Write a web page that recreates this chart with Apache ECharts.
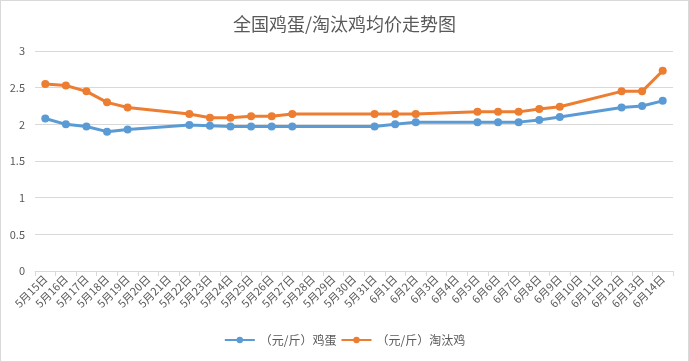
<!DOCTYPE html>
<html><head><meta charset="utf-8">
<script src="https://cdn.jsdelivr.net/npm/echarts@6/dist/echarts.min.js"></script>
<style>html,body{margin:0;padding:0;background:#fff}#c{width:689px;height:362px;box-sizing:border-box;border:1px solid #d9d9d9}</style>
</head><body><div id="c"></div>
<script>
const categories = ['5月15日','5月16日','5月17日','5月18日','5月19日','5月20日','5月21日','5月22日','5月23日','5月24日','5月25日','5月26日','5月27日','5月28日','5月29日','5月30日','5月31日','6月1日','6月2日','6月3日','6月4日','6月5日','6月6日','6月7日','6月8日','6月9日','6月10日','6月11日','6月12日','6月13日','6月14日'];
const eggPrice = [2.08,2.00,1.97,1.90,1.93,null,null,1.99,1.98,1.97,1.97,1.97,1.97,null,null,null,1.97,2.00,2.03,null,null,2.03,2.03,2.03,2.06,2.10,null,null,2.23,2.25,2.32];
const henPrice = [2.55,2.53,2.45,2.30,2.23,null,null,2.14,2.09,2.09,2.11,2.11,2.14,null,null,null,2.14,2.14,2.14,null,null,2.17,2.17,2.17,2.21,2.24,null,null,2.45,2.45,2.73];
const yTicks = {min:0, max:3, interval:0.5};
const seriesNames = ['（元/斤）鸡蛋','（元/斤）淘汰鸡'];

const font = 'Noto Sans CJK SC';
const chart = echarts.init(document.getElementById('c'));
const mk = (name, data, color) => ({
  name, type:'line', data, connectNulls:true,
  symbol:'circle', symbolSize:8, smooth:false,
  lineStyle:{color, width:3}, itemStyle:{color},
  emphasis:{disabled:true}
});
chart.setOption({
  animation:false,
  title:{text:'全国鸡蛋/淘汰鸡均价走势图', left:'center', top:9,
    textStyle:{fontFamily:font, fontSize:18, fontWeight:'normal', color:'#595959'}},
  legend:{bottom:10, left:'center', itemWidth:30, itemHeight:8, itemGap:4,
    textStyle:{fontFamily:font, fontSize:12, color:'#595959'},
    data:seriesNames},
  grid:{left:34, right:15, top:50, bottom:90, containLabel:false},
  xAxis:{type:'category', data:categories, boundaryGap:true,
    axisLine:{lineStyle:{color:'#d9d9d9', width:1}},
    axisTick:{show:true, alignWithLabel:false, length:5, lineStyle:{color:'#d9d9d9'}},
    axisLabel:{interval:0, rotate:45, fontFamily:font, fontSize:11, color:'#595959', margin:6}},
  yAxis:{type:'value', min:yTicks.min, max:yTicks.max, interval:yTicks.interval,
    axisLine:{show:false}, axisTick:{show:false},
    splitLine:{lineStyle:{color:'#d9d9d9', width:1}},
    axisLabel:{fontFamily:font, fontSize:11, color:'#595959', margin:10}},
  series:[mk(seriesNames[0], eggPrice, '#5B9BD5'), mk(seriesNames[1], henPrice, '#ED7D31')]
});
</script></body></html>
